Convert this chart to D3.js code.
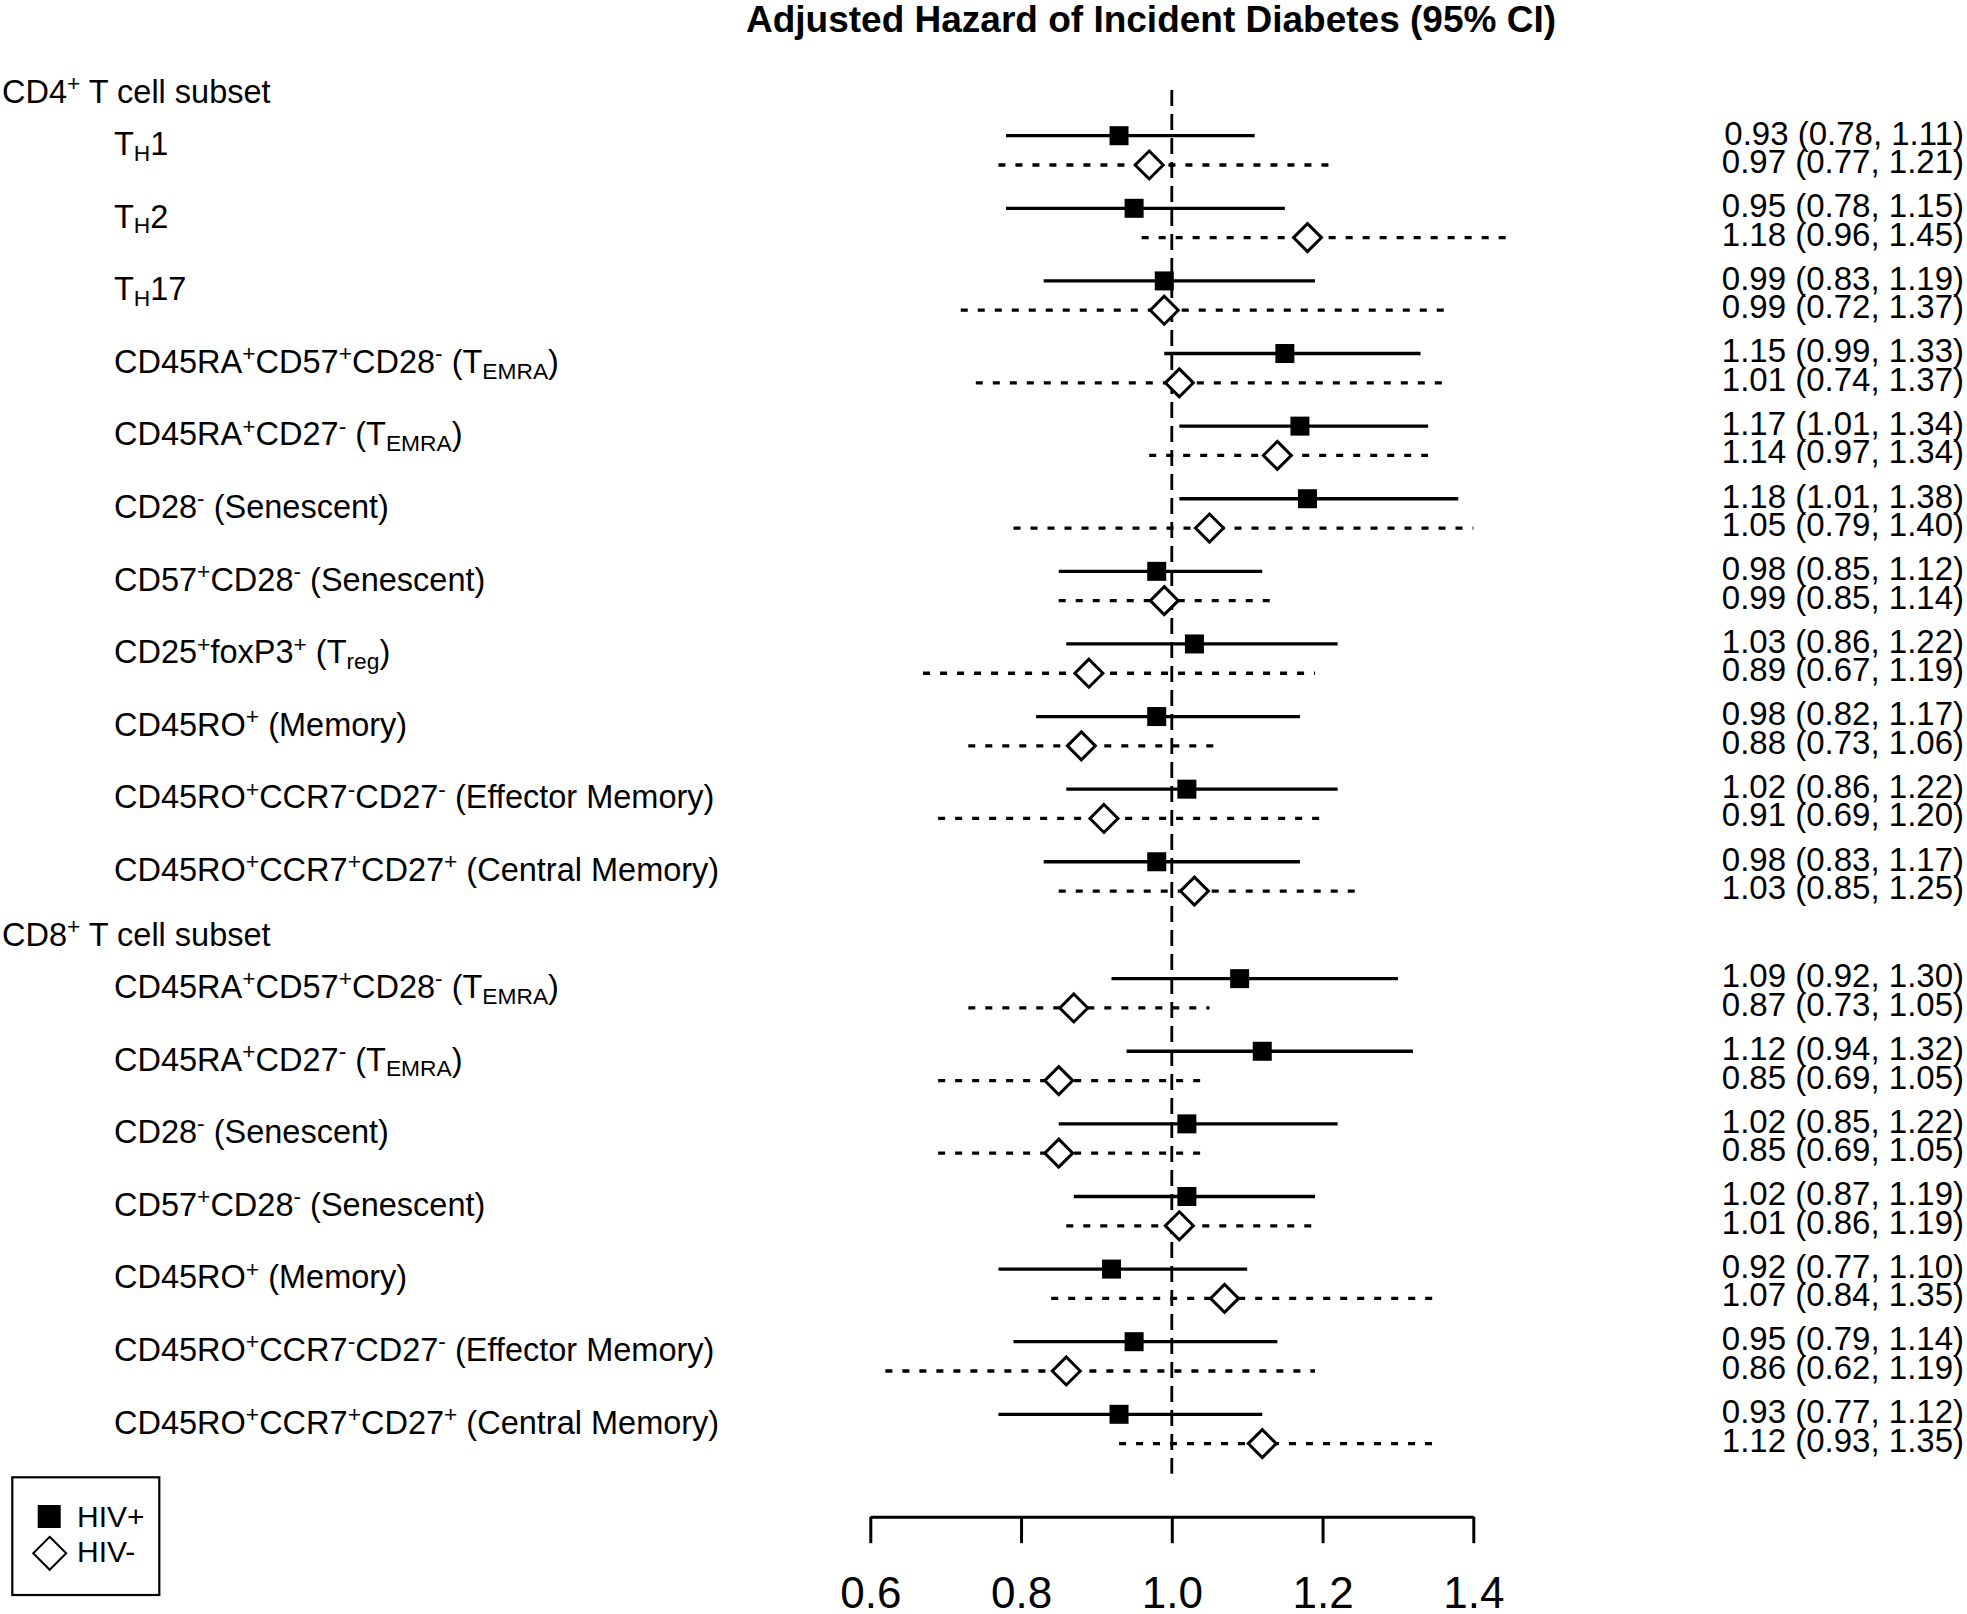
<!DOCTYPE html>
<html>
<head>
<meta charset="utf-8">
<script src="https://cdn.jsdelivr.net/npm/d3@7/dist/d3.min.js"></script>
<style>
  body { margin: 0; background: #fff; }
  svg { display: block; font-family: "Liberation Sans", Arial, Helvetica, sans-serif; }
</style>
</head>
<body>
<div id="chart"></div>
<script>
// forest plot: adjusted hazard of incident diabetes by T cell subset, HIV+ vs HIV-

// section headers and how many subsets each one holds
const sectionNames = ["CD4^{+} T cell subset", "CD8^{+} T cell subset"];
const sectionSizes = [11, 7];

// subset labels (^{} = superscript, _{} = subscript)
const subsetLabels = [
  "T_{H}1",
  "T_{H}2",
  "T_{H}17",
  "CD45RA^{+}CD57^{+}CD28^{-} (T_{EMRA})",
  "CD45RA^{+}CD27^{-} (T_{EMRA})",
  "CD28^{-} (Senescent)",
  "CD57^{+}CD28^{-} (Senescent)",
  "CD25^{+}foxP3^{+} (T_{reg})",
  "CD45RO^{+} (Memory)",
  "CD45RO^{+}CCR7^{-}CD27^{-} (Effector Memory)",
  "CD45RO^{+}CCR7^{+}CD27^{+} (Central Memory)",
  "CD45RA^{+}CD57^{+}CD28^{-} (T_{EMRA})",
  "CD45RA^{+}CD27^{-} (T_{EMRA})",
  "CD28^{-} (Senescent)",
  "CD57^{+}CD28^{-} (Senescent)",
  "CD45RO^{+} (Memory)",
  "CD45RO^{+}CCR7^{-}CD27^{-} (Effector Memory)",
  "CD45RO^{+}CCR7^{+}CD27^{+} (Central Memory)"
];

// HIV+ hazard ratios and 95% CI
const hrPos = [0.93, 0.95, 0.99, 1.15, 1.17, 1.18, 0.98, 1.03, 0.98, 1.02, 0.98, 1.09, 1.12, 1.02, 1.02, 0.92, 0.95, 0.93];
const loPos = [0.78, 0.78, 0.83, 0.99, 1.01, 1.01, 0.85, 0.86, 0.82, 0.86, 0.83, 0.92, 0.94, 0.85, 0.87, 0.77, 0.79, 0.77];
const hiPos = [1.11, 1.15, 1.19, 1.33, 1.34, 1.38, 1.12, 1.22, 1.17, 1.22, 1.17, 1.30, 1.32, 1.22, 1.19, 1.10, 1.14, 1.12];

// HIV- hazard ratios and 95% CI
const hrNeg = [0.97, 1.18, 0.99, 1.01, 1.14, 1.05, 0.99, 0.89, 0.88, 0.91, 1.03, 0.87, 0.85, 0.85, 1.01, 1.07, 0.86, 1.12];
const loNeg = [0.77, 0.96, 0.72, 0.74, 0.97, 0.79, 0.85, 0.67, 0.73, 0.69, 0.85, 0.73, 0.69, 0.69, 0.86, 0.84, 0.62, 0.93];
const hiNeg = [1.21, 1.45, 1.37, 1.37, 1.34, 1.40, 1.14, 1.19, 1.06, 1.20, 1.25, 1.05, 1.05, 1.05, 1.19, 1.35, 1.19, 1.35];

const xTicks = [0.6, 0.8, 1.0, 1.2, 1.4];
const legendLabels = ["HIV+", "HIV-"];

/* layout */
const W = 1967, H = 1614;
const sectionGap = 0.61;     // extra rows between CD4 and CD8 blocks
const headerOffset = 0.606;  // header sits this many rows above its first subset
const negOffset = 29.3;      // HIV- line below HIV+ line (px)
const labelFont = 32.5, numFont = 33, tickFont = 44, legendFont = 30;
/* end layout */

// build rows
const rows = [];
const headers = [];
let idx = 0;
sectionSizes.forEach((n, s) => {
  const base = idx + s * sectionGap;
  headers.push({ name: sectionNames[s], slot: base - headerOffset });
  for (let k = 0; k < n; k++) {
    rows.push({
      label: subsetLabels[idx],
      slot: base + k,
      pos: { hr: hrPos[idx], lo: loPos[idx], hi: hiPos[idx] },
      neg: { hr: hrNeg[idx], lo: loNeg[idx], hi: hiNeg[idx] }
    });
    idx++;
  }
});
const lastSlot = d3.max(rows, r => r.slot);

const x = d3.scaleLinear().domain([0.6, 1.4]).range([870.3, 1473.3]);
const y = d3.scaleLinear().domain([0, lastSlot]).range([135.7, 1414.3]);

const svg = d3.select("#chart").append("svg")
  .attr("width", W)
  .attr("height", H);

svg.append("rect").attr("width", W).attr("height", H).attr("fill", "#fff");

// rich text with super/subscripts
function richText(sel, str, size) {
  const parts = str.split(/(\^\{[^}]*\}|_\{[^}]*\})/).filter(p => p !== "");
  let shift = 0;
  parts.forEach(p => {
    let txt = p, target = 0, fs = size;
    if (p.startsWith("^{")) { txt = p.slice(2, -1); target = -0.36 * size; fs = 0.7 * size; }
    else if (p.startsWith("_{")) { txt = p.slice(2, -1); target = 0.18 * size; fs = 0.7 * size; }
    sel.append("tspan")
      .attr("dy", target - shift)
      .style("font-size", fs + "px")
      .text(txt);
    shift = target;
  });
}

// title
svg.append("text")
  .attr("x", 1151).attr("y", 32)
  .attr("text-anchor", "middle")
  .style("font-size", "37px").style("font-weight", "700")
  .text("Adjusted Hazard of Incident Diabetes (95% CI)");

// section headers
headers.forEach(h => {
  const t = svg.append("text")
    .attr("x", 2).attr("y", y(h.slot) + 11)
    .style("font-size", labelFont + "px");
  richText(t, h.name, labelFont);
});

// subset labels
rows.forEach(r => {
  const t = svg.append("text")
    .attr("x", 114).attr("y", y(r.slot) + 19.3)
    .style("font-size", labelFont + "px");
  richText(t, r.label, labelFont);
});

// reference line at HR = 1
svg.append("line")
  .attr("x1", x(1)).attr("x2", x(1))
  .attr("y1", y(-0.63)).attr("y2", y(lastSlot + 0.82))
  .attr("stroke", "#000").attr("stroke-width", 2.8)
  .attr("stroke-dasharray", "16,8");

// CI lines
svg.selectAll(".ciPos")
  .data(rows).enter().append("line")
  .attr("class", "ciPos")
  .attr("x1", d => x(d.pos.lo)).attr("x2", d => x(d.pos.hi))
  .attr("y1", d => y(d.slot)).attr("y2", d => y(d.slot))
  .attr("stroke", "#000").attr("stroke-width", 3.3);

svg.selectAll(".ciNeg")
  .data(rows).enter().append("line")
  .attr("class", "ciNeg")
  .attr("x1", d => x(d.neg.lo)).attr("x2", d => x(d.neg.hi))
  .attr("y1", d => y(d.slot) + negOffset).attr("y2", d => y(d.slot) + negOffset)
  .attr("stroke", "#000").attr("stroke-width", 3.3)
  .attr("stroke-dasharray", "7,10");

// markers
const sq = 19, dm = 14;
svg.selectAll(".ptPos")
  .data(rows).enter().append("rect")
  .attr("class", "ptPos")
  .attr("x", d => x(d.pos.hr) - sq / 2)
  .attr("y", d => y(d.slot) - sq / 2)
  .attr("width", sq).attr("height", sq)
  .attr("fill", "#000");

const diamond = (cx, cy, r) => `M${cx},${cy - r}L${cx + r},${cy}L${cx},${cy + r}L${cx - r},${cy}Z`;
svg.selectAll(".ptNeg")
  .data(rows).enter().append("path")
  .attr("class", "ptNeg")
  .attr("d", d => diamond(x(d.neg.hr), y(d.slot) + negOffset, dm))
  .attr("fill", "#fff")
  .attr("stroke", "#000").attr("stroke-width", 3);

// estimates text on the right
const f2 = d3.format(".2f");
const fmtCI = e => `${f2(e.hr)} (${f2(e.lo)}, ${f2(e.hi)})`;
rows.forEach(r => {
  svg.append("text")
    .attr("x", 1964).attr("y", y(r.slot) + 8.8)
    .attr("text-anchor", "end")
    .style("font-size", numFont + "px")
    .text(fmtCI(r.pos));
  svg.append("text")
    .attr("x", 1964).attr("y", y(r.slot) + negOffset + 8)
    .attr("text-anchor", "end")
    .style("font-size", numFont + "px")
    .text(fmtCI(r.neg));
});

// x axis
const axisG = svg.append("g")
  .attr("transform", "translate(0,1516.7)")
  .call(d3.axisBottom(x).tickValues(xTicks).tickFormat(d3.format(".1f"))
    .tickSize(26.5).tickSizeOuter(0).tickPadding(34));
axisG.select(".domain").attr("stroke-width", 3);
axisG.selectAll(".tick line").attr("stroke-width", 3);
axisG.selectAll("text")
  .style("font-size", tickFont + "px")
  .style("font-family", "'Liberation Sans', Arial, sans-serif")
  .attr("fill", "#000");

// legend
const lg = svg.append("g");
lg.append("rect")
  .attr("x", 12.3).attr("y", 1477.3)
  .attr("width", 147).attr("height", 117.7)
  .attr("fill", "none").attr("stroke", "#000").attr("stroke-width", 2.2);
lg.append("rect")
  .attr("x", 37.7).attr("y", 1505)
  .attr("width", 23).attr("height", 23)
  .attr("fill", "#000");
lg.append("path")
  .attr("d", diamond(49.7, 1553.3, 16.5))
  .attr("fill", "#fff").attr("stroke", "#000").attr("stroke-width", 2);
legendLabels.forEach((t, i) => {
  lg.append("text")
    .attr("x", 77).attr("y", i === 0 ? 1527.3 : 1561.7)
    .style("font-size", legendFont + "px")
    .text(t);
});
</script>
</body>
</html>
